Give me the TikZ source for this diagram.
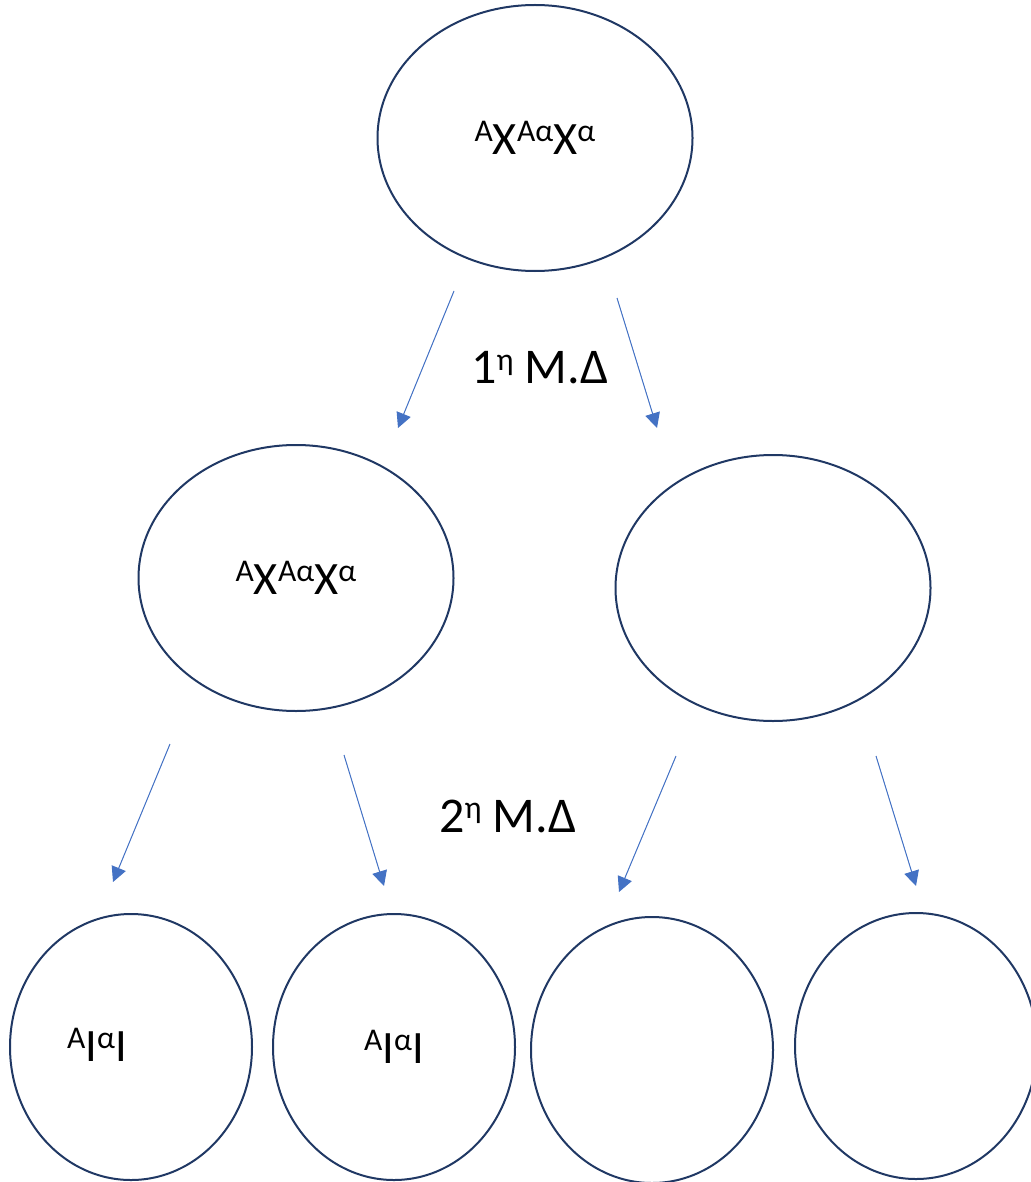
\documentclass[tikz,border=0pt]{standalone}
\usepackage{fontspec}
\setmainfont{Carlito}
\usetikzlibrary{arrows.meta,shapes.geometric}
\definecolor{outline}{HTML}{203864}
\definecolor{arrowblue}{HTML}{4472C4}
\newcommand{\hi}[1]{\raisebox{6.7pt}{\fontsize{15.8}{16}\selectfont #1}}

\begin{document}
\begin{tikzpicture}[
  x=0.5pt,y=-0.5pt,
  font=\fontsize{23.2}{26}\selectfont,
  oval/.style={draw=outline,line width=1pt,ellipse,inner sep=0pt,
    minimum width=157.5pt,minimum height=133pt},
  round/.style={oval,minimum width=121pt,minimum height=133pt},
  stage/.style={font=\fontsize{25}{28}\selectfont,inner sep=0pt},
  flow/.style={-{Triangle[length=7.5pt,width=7.5pt]},draw=arrowblue,
    fill=arrowblue,line width=0.5pt}
]
\useasboundingbox (0,0) rectangle (1030,1182);
\node[oval] (top) at (535,138) {\hi{A}X\hi{Aα}X\hi{α}};
\node[oval] (left) at (296,578) {\hi{A}X\hi{Aα}X\hi{α}};
\node[oval] (right) at (773,588) {};
\node[round] (c1) at (131,1047) {};
\node[round] (c2) at (394,1047) {\hi{A}I\hi{α}I};
\node[round] (c3) at (652,1050) {};
\node[round] (c4) at (916,1046) {};
\node[inner sep=0pt] (c1txt) at (97,1045) {\hi{A}I\hi{α}I};

\node[stage] (m1) at (540,368) {1\hi{η} Μ.Δ};
\node[stage] (m2) at (508,816) {2\hi{η} Μ.Δ};

% free-standing arrows
\coordinate (a1s) at (454,291); \coordinate (a1e) at (398,428);
\coordinate (a2s) at (617,298); \coordinate (a2e) at (657,428);
\coordinate (a3s) at (170,744); \coordinate (a3e) at (113,882);
\coordinate (a4s) at (344,755); \coordinate (a4e) at (384,886);
\coordinate (a5s) at (676,756); \coordinate (a5e) at (619,892);
\coordinate (a6s) at (876,756); \coordinate (a6e) at (916,886);
\foreach \i in {1,...,6}
  \draw[flow] (a\i s) -- (a\i e);
\end{tikzpicture}
\end{document}
